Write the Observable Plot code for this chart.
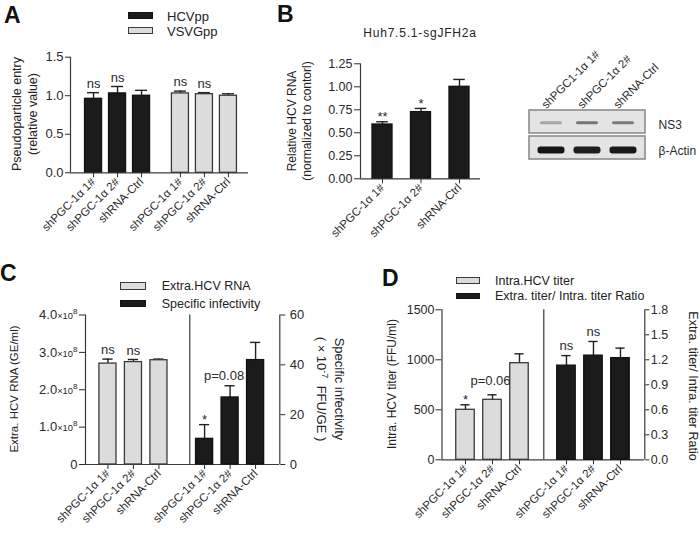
<!DOCTYPE html>
<html><head><meta charset="utf-8">
<script src="https://cdn.jsdelivr.net/npm/d3@7"></script>
<script src="https://cdn.jsdelivr.net/npm/@observablehq/plot@0.6"></script>
<style>
html,body{margin:0;padding:0;background:#fff;}
#fig{position:relative;width:700px;height:535px;overflow:hidden;background:#fff;font-family:'Liberation Sans',Arial,Helvetica,sans-serif;color:#222;}
#fig svg{position:absolute;left:0;top:0;}
.t{position:absolute;white-space:nowrap;font-size:13px;line-height:1;}
.letter{position:absolute;font-weight:bold;font-size:23px;line-height:1;color:#111;}
.box{position:absolute;box-sizing:border-box;}
</style></head>
<body><div id="fig"></div>
<script>
// ---------------- DATA ----------------
const groups3 = ["shPGC-1α 1#", "shPGC-1α 2#", "shRNA-Ctrl"];
// Panel A
const aSeries = ["HCVpp", "VSVGpp"];
const aHCVpp = [0.96, 1.03, 1.00];
const aHCVppErr = [0.08, 0.09, 0.07];
const aHCVppSig = ["ns", "ns", ""];
const aVSVGpp = [1.03, 1.02, 1.00];
const aVSVGppErr = [0.03, 0.02, 0.025];
const aVSVGppSig = ["ns", "ns", ""];
const aYTicks = [0, 0.5, 1.0, 1.5];
// Panel B
const bTitle = "Huh7.5.1-sgJFH2a";
const bRNA = [0.59, 0.725, 1.00];
const bRNAErr = [0.03, 0.04, 0.08];
const bSig = ["**", "*", ""];
const bYTicks = [0, 0.25, 0.5, 0.75, 1.0, 1.25];
const blotLanes = ["shPGC1-1α 1#", "shPGC-1α 2#", "shRNA-Ctrl"];
const blotRows = ["NS3", "β-Actin"];
const blotNS3 = [0.45, 0.62, 0.6];
const blotActin = [0.93, 0.9, 0.92];
// Panel C
const cSeries = ["Extra.HCV RNA", "Specific infectivity"];
const cRNA = [2.70e8, 2.74e8, 2.79e8];
const cRNAErr = [0.12e8, 0.07e8, 0.03e8];
const cRNASig = ["ns", "ns", ""];
const cSI = [10.3, 26.9, 41.9];
const cSIErr = [5.7, 4.7, 7.1];
const cSISig = ["*", "p=0.08", ""];
const cLeftTicks = [0, 1e8, 2e8, 3e8, 4e8];
const cRightTicks = [0, 20, 40, 60];
// Panel D
const dSeries = ["Intra.HCV titer", "Extra. titer/ Intra. titer Ratio"];
const dTiter = [500, 600, 966];
const dTiterErr = [50, 50, 94];
const dTiterSig = ["*", "p=0.06", ""];
const dRatio = [1.13, 1.25, 1.22];
const dRatioErr = [0.12, 0.17, 0.12];
const dRatioSig = ["ns", "ns", ""];
const dLeftTicks = [0, 500, 1000, 1500];
const dRightTicks = [0, 0.3, 0.6, 0.9, 1.2, 1.5, 1.8];

// ---------------- LAYOUT / HELPERS ----------------
const W = 700, H = 535;
const FONT = "'Liberation Sans', Arial, Helvetica, sans-serif";
const BLACK = "#1b1b1b", GREY = "#dcdcdc", EDGE = "#3a3a3a", AXIS = "#3a3a3a";
const fig = document.getElementById("fig");

const mkRows = (vals, errs, sigs, start) =>
  vals.map((v, i) => ({label: groups3[i], v, e: errs[i], sig: sigs[i], pos: start + i}));

function overlay(fr, xDomain, yDomain, marks, sizes = {}) {
  const svg = Plot.plot({
    width: W, height: H,
    marginLeft: fr.left, marginRight: W - fr.right, marginTop: fr.top, marginBottom: H - fr.bottom,
    x: {domain: xDomain, axis: null},
    y: {domain: yDomain, axis: null},
    style: {background: "transparent", fontFamily: FONT, fontSize: "12.5px", color: "#2a2a2a", overflow: "visible"},
    marks
  });
  fig.appendChild(svg);
  for (const [axis, size] of Object.entries(sizes)) {
    d3.select(svg).selectAll(`g[aria-label="${axis}-axis tick label"]`)
      .style("font-size", size + "px")
      .selectAll("text").style("font-size", size + "px");
  }
  return svg;
}
function barMarks(rs, w, cap, fill) {
  return [
    Plot.ruleX(rs, {x: "pos", y1: "v", y2: d => d.v + d.e, stroke: "#222", strokeWidth: 1.4}),
    Plot.ruleY(rs, {y: d => d.v + d.e, x1: d => d.pos - cap, x2: d => d.pos + cap, stroke: "#222", strokeWidth: 1.4}),
    Plot.rect(rs, {x1: d => d.pos - w / 2, x2: d => d.pos + w / 2, y1: d => 0, y2: "v",
      fill, stroke: fill === GREY ? EDGE : "#111", strokeWidth: 1.3})
  ];
}
const isStar = s => /^\*+$/.test(s);
const sig = (rs, test, dy, dx = 0) =>
  Plot.text(rs.filter(d => d.sig && test(d.sig)), {x: "pos", y: d => d.v + d.e, text: "sig", dy, dx, fontSize: 13, fill: "#2a2a2a"});
const xAxisCats = rs => {
  const m = new Map(rs.map(d => [d.pos, d.label]));
  return Plot.axisX(rs.map(d => d.pos), {tickFormat: d => m.get(d), tickRotate: -45, tickSize: 5, tickPadding: 2, label: null});
};
const vline = x => Plot.ruleX([x], {stroke: AXIS, strokeWidth: 1.2});
const base = () => Plot.ruleY([0], {stroke: AXIS, strokeWidth: 1.2});

function txt(html, x, y, css = {}) {
  const d = document.createElement("div");
  d.className = "t"; d.innerHTML = html;
  d.style.left = x + "px"; d.style.top = y + "px";
  Object.assign(d.style, css);
  fig.appendChild(d); return d;
}
const vlabel = (html, x, y, size, rot = -90, lh = 15) =>
  txt(html, x, y, {fontSize: size + "px", lineHeight: lh + "px", textAlign: "center", transform: `translate(-50%,-50%) rotate(${rot}deg)`});
const midText = (html, x, y, size = 13) => txt(html, x, y, {fontSize: size + "px", transform: "translateY(-50%)"});
function box(x, y, w, h, fill) {
  const d = document.createElement("div");
  d.className = "box";
  Object.assign(d.style, {left: x + "px", top: y + "px", width: w + "px", height: h + "px", background: fill,
    border: `1.3px solid ${fill === GREY ? EDGE : "#111"}`});
  fig.appendChild(d);
}
function letter(s, x, y) {
  const d = document.createElement("div"); d.className = "letter"; d.textContent = s;
  d.style.left = x + "px"; d.style.top = y + "px"; fig.appendChild(d);
}

// ---------------- PANEL A ----------------
{
  const fr = {left: 70, right: 248, top: 56.7, bottom: 172.3};
  const unit = 24, starts = [0.96, 4.58];
  const r1 = mkRows(aHCVpp, aHCVppErr, aHCVppSig, starts[0]);
  const r2 = mkRows(aVSVGpp, aVSVGppErr, aVSVGppSig, starts[1]);
  overlay(fr, [0, (fr.right - fr.left) / unit], [0, 1.5], [
    ...barMarks(r1, 0.71, 0.25, BLACK),
    ...barMarks(r2, 0.71, 0.25, GREY),
    sig([...r1, ...r2], s => !isStar(s), -9),
    Plot.axisY(aYTicks, {tickFormat: d3.format(".1f"), tickSize: 5, tickPadding: 2, label: null}),
    xAxisCats([...r1, ...r2]),
    vline(0), base()
  ], {y: 13, x: 11.5});
  letter("A", 4, 3.5);
  box(128, 12, 25, 6.5, BLACK); midText(aSeries[0], 167, 15.5);
  box(128, 27, 25, 6.5, GREY); midText(aSeries[1], 167, 30.5);
  vlabel("Pseudoparticle entry<br>(relative value)", 25, 114, 12.5, -90, 16);
}

// ---------------- PANEL B ----------------
{
  const fr = {left: 360, right: 480, top: 63.3, bottom: 178.3};
  const unit = 38.5, start = (382 - 360) / unit;
  const r = mkRows(bRNA, bRNAErr, bSig, start);
  overlay(fr, [0, (fr.right - fr.left) / unit], [0, 1.25], [
    ...barMarks(r, 0.52, 0.15, BLACK),
    sig(r, isStar, -5),
    Plot.axisY(bYTicks, {tickFormat: d3.format(".2f"), tickSize: 6, tickPadding: 2, label: null}),
    xAxisCats(r),
    vline(0), base()
  ], {y: 12.5, x: 11.5});
  letter("B", 277, 2.5);
  txt(bTitle, 420, 33, {fontSize: "12px", letterSpacing: "0.8px", transform: "translate(-50%,-50%)"});
  vlabel("Relative HCV RNA<br>(normalized to contorl)", 299.5, 121, 12, -90, 15);

  // Western blot
  const ns3 = blotLanes.map((lane, i) => ({lane, row: blotRows[0], i: blotNS3[i]}));
  const act = blotLanes.map((lane, i) => ({lane, row: blotRows[1], i: blotActin[i]}));
  const svg = Plot.plot({
    width: W, height: H,
    marginLeft: 529, marginRight: W - 645, marginTop: 110, marginBottom: H - 159,
    x: {type: "band", domain: blotLanes, paddingInner: 0, paddingOuter: 0.1, axis: null},
    y: {type: "band", domain: blotRows, paddingInner: 0.12, paddingOuter: 0, axis: null},
    style: {background: "transparent", fontFamily: FONT, fontSize: "12.5px", color: "#2a2a2a", overflow: "visible"},
    marks: [
      Plot.cell(blotRows, {y: d => d, fill: "#e4e4e4", stroke: "#8c8c8c", strokeWidth: 1.6}),
      Plot.cell(ns3, {x: "lane", y: "row", fill: d => d3.interpolateGreys(d.i), insetTop: 11.2, insetBottom: 8.8, insetLeft: 7, insetRight: 7, rx: 1.5, ariaLabel: "bands"}),
      Plot.cell(act, {x: "lane", y: "row", fill: d => d3.interpolateGreys(d.i), insetTop: 10.5, insetBottom: 5.5, insetLeft: 4.5, insetRight: 4.5, rx: 3, ariaLabel: "bands"}),
      Plot.text(blotLanes, {x: d => d, frameAnchor: "top", rotate: -45, textAnchor: "start", dx: -11, dy: -7, fontSize: 11.5}),
      Plot.text(blotRows, {y: d => d, frameAnchor: "right", textAnchor: "start", dx: 13, dy: 3, fontSize: 12})
    ]
  });
  fig.appendChild(svg);
  d3.select(svg).selectAll('g[aria-label="bands"]').style("filter", "blur(0.7px)");
}

// ---------------- PANEL C ----------------
{
  const fr = {left: 85, right: 279.3, top: 314.5, bottom: 464};
  const unit = 25.5, starts = [0.88, 4.67], divider = 4.09;
  const xd = [0, (fr.right - fr.left) / unit];
  const r1 = mkRows(cRNA, cRNAErr, cRNASig, starts[0]);
  const r2 = mkRows(cSI, cSIErr, cSISig, starts[1]);
  const left = overlay(fr, xd, [0, 4e8], [
    ...barMarks(r1, 0.67, 0.2, GREY),
    sig(r1, s => !isStar(s), -9),
    Plot.axisY(cLeftTicks, {tickFormat: d => d === 0 ? "0" : (d / 1e8).toFixed(1) + "×10⁸", tickSize: 6, tickPadding: 2, label: null}),
    xAxisCats([...r1, ...r2]),
    vline(0), base()
  ], {y: 13, x: 11.5});
  d3.select(left).selectAll('g[aria-label="y-axis tick label"] text').each(function () {
    const t = d3.select(this), s = t.text();
    if (!s.includes("×")) return;
    const m = s.split("×")[0];
    t.text(null);
    t.append("tspan").text(m);
    t.append("tspan").attr("font-size", "0.72em").text("×10");
    t.append("tspan").attr("font-size", "0.62em").attr("dy", "-0.6em").text("8");
  });
  overlay(fr, xd, [0, 60], [
    ...barMarks(r2, 0.67, 0.2, BLACK),
    sig(r2, isStar, -4.5),
    sig(r2, s => s.startsWith("p"), -10, -6),
    Plot.axisY(cRightTicks, {anchor: "right", tickSize: 5, tickPadding: 5, label: null}),
    vline(divider), vline(xd[1])
  ], {y: 13});
  letter("C", 0, 262);
  box(120, 282, 26, 7.5, GREY); midText(cSeries[0], 161.7, 286, 12.5);
  box(120, 299.5, 26, 7.5, BLACK); midText(cSeries[1], 161.7, 303.5, 12.5);
  vlabel("Extra. HCV RNA (GE/ml)", 14, 389, 11.5);
  vlabel("Specific infectivity<br>( × 10<sup style='font-size:0.7em'>-7</sup>&nbsp; FFU/GE )", 330, 389, 13, 90, 14);
}

// ---------------- PANEL D ----------------
{
  const fr = {left: 441.5, right: 644.3, top: 309.3, bottom: 459.3};
  const unit = 27, starts = [0.87, 4.61], divider = 3.77;
  const xd = [0, (fr.right - fr.left) / unit];
  const r1 = mkRows(dTiter, dTiterErr, dTiterSig, starts[0]);
  const r2 = mkRows(dRatio, dRatioErr, dRatioSig, starts[1]);
  overlay(fr, xd, [0, 1500], [
    ...barMarks(r1, 0.685, 0.17, GREY),
    sig(r1, isStar, -4.5),
    sig(r1, s => s.startsWith("p"), -13.5, -2),
    Plot.axisY(dLeftTicks, {tickFormat: d => String(d), tickSize: 6, tickPadding: 1.5, label: null}),
    xAxisCats([...r1, ...r2]),
    vline(0), base()
  ], {y: 12.5, x: 11.5});
  overlay(fr, xd, [0, 1.8], [
    ...barMarks(r2, 0.685, 0.17, BLACK),
    sig(r2, s => !isStar(s), -10),
    Plot.axisY(dRightTicks, {anchor: "right", tickFormat: d3.format(".1f"), tickSize: 4, tickPadding: 2, label: null}),
    vline(divider), vline(xd[1])
  ], {y: 12.5});
  letter("D", 382, 267);
  box(456, 277, 23.5, 6.5, GREY); midText(dSeries[0], 495, 280.5, 12.5);
  box(456, 292.5, 23.5, 6.5, BLACK); midText(dSeries[1], 495, 296, 12.5);
  vlabel("Intra. HCV titer (FFU/ml)", 392, 384, 12);
  vlabel("Extra. titer/ Intra. titer Ratio", 692, 386, 12.5, 90);
}
</script></body></html>
